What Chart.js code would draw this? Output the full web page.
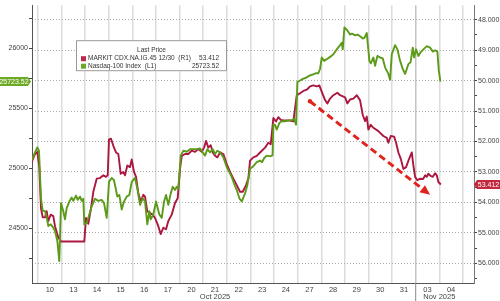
<!DOCTYPE html>
<html>
<head>
<meta charset="utf-8">
<script src="https://cdn.jsdelivr.net/npm/chart.js@4.4.1/dist/chart.umd.min.js"></script>
<style>
  html, body { margin: 0; padding: 0; background: #fff; }
  #wrap { width: 500px; height: 301px; }
</style>
</head>
<body>
<div id="wrap"><canvas id="chart" width="500" height="301"></canvas></div>
<script>
// Day slots on the x axis: slot k spans [k, k+1]
const dayLabels = ['09', '10', '13', '14', '15', '16', '17', '20', '21', '22', '23', '24',
  '27', '28', '29', '30', '31', '03', '04'];
const monthLabels = ['Oct 2025', 'Nov 2025'];
const monthLabelAt = [8.5, 18];
const novStart = 17;

const seriesNames = ['MARKIT CDX.NA.IG.45 12/30  (R1)', 'Nasdaq-100 Index  (L1)'];

// MARKIT CDX IG (right axis, inverted)
const cdxTime = [
  0.733, 0.873, 0.970, 1.055, 1.127, 1.199, 1.297, 1.369, 1.436, 1.538,
  1.648, 1.720, 1.860, 1.975, 2.962, 3.034, 3.131, 3.246, 3.343, 3.487,
  3.627, 3.767, 3.881, 3.953, 4.008, 4.093, 4.191, 4.305, 4.403, 4.504,
  4.614, 4.686, 4.784, 4.898, 4.970, 5.068, 5.153, 5.250, 5.352, 5.462,
  5.534, 5.631, 5.746, 5.860, 5.958, 6.097, 6.199, 6.309, 6.424, 6.521,
  6.665, 6.805, 6.919, 7.017, 7.089, 7.229, 7.369, 7.513, 7.653, 7.792,
  7.936, 8.034, 8.119, 8.216, 8.318, 8.403, 8.500, 8.597, 8.712, 8.852,
  8.996, 9.136, 9.275, 9.419, 9.559, 9.674, 9.814, 9.911, 9.983, 10.123,
  10.267, 10.407, 10.619, 10.758, 10.860, 10.970, 11.085, 11.182, 11.284, 11.394,
  11.678, 11.818, 11.962, 12.072, 12.242, 12.386, 12.525, 12.665, 12.809, 12.919,
  13.021, 13.161, 13.258, 13.373, 13.513, 13.682, 13.797, 14.008, 14.106, 14.220,
  14.360, 14.504, 14.644, 14.758, 14.856, 14.928, 14.996, 15.097, 15.208, 15.419,
  15.631, 15.775, 15.843, 15.945, 16.085, 16.170, 16.267, 16.369, 16.479, 16.593,
  16.691, 16.835, 16.903, 16.975, 17.072, 17.186, 17.314, 17.398, 17.470, 17.538,
  17.631, 17.725, 17.822, 17.894, 17.962, 18.064
];
const cdxValue = [
  52.68, 52.41, 52.34, 52.84, 54.19, 54.49, 54.49, 54.29, 54.61, 54.40,
  54.45, 54.78, 55.15, 55.28, 55.28, 54.51, 54.70, 54.19, 53.65, 53.22,
  53.20, 53.11, 53.16, 53.11, 51.93, 51.91, 52.14, 52.36, 52.41, 53.06,
  53.00, 53.11, 52.79, 52.84, 52.59, 53.00, 53.16, 53.70, 53.97, 53.75,
  53.81, 54.29, 54.35, 54.40, 54.51, 54.78, 55.04, 54.83, 54.88, 54.61,
  54.40, 54.02, 53.86, 52.90, 52.47, 52.41, 52.41, 52.30, 52.34, 52.25,
  52.34, 52.20, 51.98, 52.20, 52.12, 52.36, 52.47, 52.52, 52.36, 52.41,
  52.74, 53.00, 53.22, 53.43, 53.65, 53.65, 53.43, 53.22, 52.63, 52.52,
  52.47, 52.36, 52.20, 52.04, 52.09, 51.23, 51.34, 51.20, 51.29, 51.31,
  51.31, 51.34, 50.48, 50.43, 50.34, 50.30, 50.19, 50.16, 50.19, 50.16,
  50.37, 50.64, 50.75, 50.59, 50.48, 50.40, 50.48, 50.55, 50.75, 50.62,
  50.59, 50.48, 50.65, 51.13, 51.33, 51.18, 51.61, 51.45, 51.55, 51.66,
  51.82, 51.88, 52.04, 51.82, 51.84, 52.04, 52.36, 52.57, 52.90, 52.84,
  52.63, 52.36, 52.79, 53.16, 53.27, 53.22, 53.23, 53.11, 53.16, 53.06,
  53.13, 53.16, 53.04, 53.11, 53.33, 53.412
];

// Nasdaq-100 (left axis)
const ndxTime = [
  0.733, 0.873, 0.970, 1.042, 1.127, 1.199, 1.297, 1.369, 1.436, 1.538,
  1.648, 1.720, 1.818, 1.903, 1.975, 2.072, 2.144, 2.216, 2.326, 2.428,
  2.496, 2.610, 2.682, 2.780, 2.852, 2.919, 2.962, 3.064, 3.174, 3.275,
  3.415, 3.555, 3.699, 3.797, 3.911, 4.008, 4.123, 4.220, 4.305, 4.360,
  4.445, 4.547, 4.644, 4.758, 4.869, 4.970, 5.110, 5.208, 5.322, 5.436,
  5.534, 5.631, 5.716, 5.775, 5.886, 6.000, 6.064, 6.140, 6.242, 6.339,
  6.424, 6.521, 6.623, 6.708, 6.805, 6.877, 6.945, 7.047, 7.157, 7.301,
  7.441, 7.581, 7.725, 7.864, 7.979, 8.076, 8.174, 8.288, 8.403, 8.500,
  8.597, 8.712, 8.852, 8.996, 9.106, 9.208, 9.305, 9.419, 9.530, 9.631,
  9.771, 9.869, 9.983, 10.123, 10.267, 10.407, 10.490, 10.576, 10.691, 10.831,
  10.936, 10.970, 11.042, 11.114, 11.225, 11.326, 11.466, 11.606, 11.720, 11.847,
  11.932, 11.987, 12.102, 12.216, 12.356, 12.496, 12.640, 12.780, 12.877, 12.949,
  13.021, 13.119, 13.233, 13.373, 13.513, 13.657, 13.767, 13.869, 13.911, 13.979,
  14.081, 14.220, 14.305, 14.432, 14.538, 14.644, 14.758, 14.835, 14.928, 15.038,
  15.097, 15.208, 15.280, 15.377, 15.492, 15.606, 15.703, 15.843, 15.915, 15.987,
  16.127, 16.225, 16.339, 16.453, 16.551, 16.691, 16.784, 16.877, 16.932, 17.017,
  17.114, 17.208, 17.326, 17.470, 17.610, 17.725, 17.822, 17.919, 17.979, 18.047
];
const ndxValue = [
  25067, 25133, 25174, 25147, 24750, 24647, 24642, 24593, 24519, 24533,
  24505, 24478, 24396, 24227, 24710, 24642, 24574, 24669, 24723, 24756,
  24729, 24773, 24737, 24764, 24729, 24746, 24533, 24546, 24615, 24683,
  24746, 24729, 24737, 24710, 24587, 24887, 24920, 24901, 24819, 24764,
  24778, 24656, 24723, 24764, 24778, 24887, 24920, 24832, 24696, 24750,
  24723, 24533, 24642, 24574, 24615, 24723, 24674, 24615, 24587, 24723,
  24778, 24696, 24791, 24846, 24819, 24846, 24832, 25106, 25147, 25138,
  25160, 25160, 25160, 25165, 25133, 25106, 25160, 25133, 25160, 25119,
  25147, 25133, 25092, 25010, 24969, 24928, 24873, 24819, 24750, 24723,
  24791, 24860, 24996, 25018, 25051, 25065, 25051, 25084, 25106, 25100,
  25108, 25364, 25362, 25323, 25378, 25392, 25392, 25400, 25400, 25411,
  25364, 25719, 25732, 25746, 25755, 25773, 25782, 25793, 25793, 25828,
  25924, 25896, 25910, 25929, 25951, 25992, 26019, 26047, 25992, 26174,
  26155, 26115, 26123, 26109, 26115, 26101, 26082, 26090, 26128, 25896,
  25875, 25924, 25855, 25937, 25924, 25916, 25842, 25787, 25738, 25951,
  26027, 25992, 25896, 25828, 25787, 25869, 25885, 26006, 25924, 25992,
  25937, 25967, 25992, 26019, 26006, 25973, 25984, 25973, 25814, 25723.52
];

// Tick values
const leftTicks = [24250, 24500, 24750, 25000, 25250, 25500, 25750, 26000, 26250];
const rightTicks = [48, 48.5, 49, 49.5, 50, 50.5, 51, 51.5, 52, 52.5, 53, 53.5,
  54, 54.5, 55, 55.5, 56, 56.5];

// Trend arrow annotation (x = day slot, y = right axis value)
const arrowFrom = [12.52, 50.68];
const arrowTo = [17.61, 53.75];

const RED = '#ab173e';
const GREEN = '#5c9a19';
const FONT = "'Liberation Sans', Arial, sans-serif";

const xTicks = [];
for (let k = 1; k < dayLabels.length; k++) {
  xTicks.push(k, k + 0.5);
}
xTicks.push(dayLabels.length);

function toPoints(xs, ys) {
  return xs.map((x, i) => ({ x: x, y: ys[i] }));
}

function drawTag(ctx, x0, x1, tipX, yc, h, fill, text) {
  ctx.save();
  ctx.fillStyle = fill;
  ctx.beginPath();
  if (tipX > x1) {
    ctx.moveTo(x0, yc - h / 2);
    ctx.lineTo(x1, yc - h / 2);
    ctx.lineTo(tipX, yc);
    ctx.lineTo(x1, yc + h / 2);
    ctx.lineTo(x0, yc + h / 2);
  } else {
    ctx.moveTo(x1, yc - h / 2);
    ctx.lineTo(x0, yc - h / 2);
    ctx.lineTo(tipX, yc);
    ctx.lineTo(x0, yc + h / 2);
    ctx.lineTo(x1, yc + h / 2);
  }
  ctx.closePath();
  ctx.fill();
  ctx.fillStyle = '#fff';
  ctx.font = '7px ' + FONT;
  ctx.textAlign = 'center';
  ctx.textBaseline = 'middle';
  ctx.fillText(text, (x0 + x1) / 2, yc + 0.5);
  ctx.restore();
}

const overlay = {
  id: 'overlay',
  afterDraw(chart) {
    const { ctx, chartArea: a, scales } = chart;
    const x = scales.x, yL = scales.yL, yR = scales.yR;

    // month divider below the axis + month names
    ctx.save();
    const mx = x.getPixelForValue(novStart);
    ctx.strokeStyle = '#8a8a8a';
    ctx.lineWidth = 1;
    ctx.beginPath();
    ctx.moveTo(mx, a.bottom);
    ctx.lineTo(mx, chart.height);
    ctx.stroke();
    ctx.fillStyle = '#444';
    ctx.font = '7.5px ' + FONT;
    ctx.textAlign = 'center';
    ctx.textBaseline = 'middle';
    monthLabels.forEach((m, i) => {
      ctx.fillText(m, x.getPixelForValue(monthLabelAt[i]), 297);
    });
    ctx.restore();

    // dashed trend arrow
    const ax0 = x.getPixelForValue(arrowFrom[0]), ay0 = yR.getPixelForValue(arrowFrom[1]);
    const ax1 = x.getPixelForValue(arrowTo[0]), ay1 = yR.getPixelForValue(arrowTo[1]);
    const ang = Math.atan2(ay1 - ay0, ax1 - ax0);
    const head = 10;
    ctx.save();
    ctx.strokeStyle = '#e0241d';
    ctx.fillStyle = '#e0241d';
    ctx.lineWidth = 3;
    ctx.setLineDash([7, 4]);
    ctx.beginPath();
    ctx.moveTo(ax0, ay0);
    ctx.lineTo(ax1 - head * Math.cos(ang), ay1 - head * Math.sin(ang));
    ctx.stroke();
    ctx.setLineDash([]);
    ctx.beginPath();
    ctx.arc(ax0, ay0, 2.2, 0, Math.PI * 2);
    ctx.fill();
    ctx.beginPath();
    ctx.moveTo(ax1, ay1);
    ctx.lineTo(ax1 - head * Math.cos(ang) + 4.5 * Math.sin(ang), ay1 - head * Math.sin(ang) - 4.5 * Math.cos(ang));
    ctx.lineTo(ax1 - head * Math.cos(ang) - 4.5 * Math.sin(ang), ay1 - head * Math.sin(ang) + 4.5 * Math.cos(ang));
    ctx.closePath();
    ctx.fill();
    ctx.restore();

    // legend box
    const lx = a.left + 44, ly = a.top + 35, lw = 151, lh = 31;
    ctx.save();
    ctx.fillStyle = '#fff';
    ctx.fillRect(lx, ly, lw, lh);
    ctx.strokeStyle = '#9a9a9a';
    ctx.lineWidth = 1;
    ctx.strokeRect(lx + 0.5, ly + 0.5, lw - 1, lh - 1);
    ctx.fillStyle = '#333';
    ctx.font = '6.5px ' + FONT;
    ctx.textBaseline = 'middle';
    ctx.textAlign = 'center';
    ctx.fillText('Last Price', lx + lw / 2, ly + 10);
    const lastVals = [cdxValue[cdxValue.length - 1].toFixed(3), ndxValue[ndxValue.length - 1].toFixed(2)];
    const swatch = ['#c0284a', '#6aa82a'];
    seriesNames.forEach((name, i) => {
      const ry = ly + 18.5 + i * 7.5;
      ctx.fillStyle = swatch[i];
      ctx.fillRect(lx + 5, ry - 2.5, 5, 5);
      ctx.fillStyle = '#333';
      ctx.textAlign = 'left';
      ctx.fillText(name, lx + 12, ry);
      ctx.textAlign = 'right';
      ctx.fillText(lastVals[i], lx + lw - 8, ry);
    });
    ctx.restore();

    // last value tags on both axes
    const gy = yL.getPixelForValue(ndxValue[ndxValue.length - 1]);
    drawTag(ctx, 0, 28, 31, gy, 9, '#6eaa25', ndxValue[ndxValue.length - 1].toFixed(2));
    const ry = yR.getPixelForValue(cdxValue[cdxValue.length - 1]);
    drawTag(ctx, 477, 500, 474, ry, 9, '#c3283f', cdxValue[cdxValue.length - 1].toFixed(3));
  }
};

new Chart(document.getElementById('chart').getContext('2d'), {
  type: 'line',
  data: {
    datasets: [
      {
        label: seriesNames[1],
        data: toPoints(ndxTime, ndxValue),
        yAxisID: 'yL',
        borderColor: GREEN,
        borderWidth: 1.9,
        pointRadius: 0,
        tension: 0,
        borderJoinStyle: 'round'
      },
      {
        label: seriesNames[0],
        data: toPoints(cdxTime, cdxValue),
        yAxisID: 'yR',
        borderColor: RED,
        borderWidth: 1.9,
        pointRadius: 0,
        tension: 0,
        borderJoinStyle: 'round'
      }
    ]
  },
  options: {
    responsive: false,
    animation: false,
    devicePixelRatio: 1,
    layout: { padding: 0, autoPadding: false },
    plugins: { legend: { display: false }, tooltip: { enabled: false } },
    scales: {
      x: {
        type: 'linear',
        min: 0.746,
        max: 19.47,
        afterBuildTicks: s => { s.ticks = xTicks.map(v => ({ value: v })); },
        afterFit: s => { s.height = 18; },
        grid: {
          color: c => {
            const v = c.tick ? c.tick.value : 0;
            if (!Number.isInteger(v)) return 'rgba(0,0,0,0)';
            return v === novStart ? '#c4c4c4' : '#dcdcdc';
          },
          lineWidth: 1.5,
          drawTicks: false
        },
        border: { color: '#555', width: 1 },
        ticks: {
          autoSkip: false,
          maxRotation: 0,
          padding: 2.5,
          color: '#444',
          font: { family: FONT, size: 7.5 },
          callback: v => Number.isInteger(v) ? '' : dayLabels[Math.floor(v)]
        }
      },
      yL: {
        position: 'left',
        min: 24044,
        max: 26360,
        afterBuildTicks: s => { s.ticks = leftTicks.map(v => ({ value: v })); },
        afterFit: s => { s.width = 32; },
        grid: { drawOnChartArea: false, tickLength: 3, tickColor: '#444' },
        border: { color: '#555', width: 1 },
        ticks: {
          padding: 1,
          color: '#444',
          font: { family: FONT, size: 7 },
          callback: v => v % 500 === 0 ? String(v) : ''
        }
      },
      yR: {
        position: 'right',
        reverse: true,
        min: 47.526,
        max: 56.644,
        afterBuildTicks: s => { s.ticks = rightTicks.map(v => ({ value: v })); },
        afterFit: s => { s.width = 26; },
        grid: {
          color: c => (c.tick && Number.isInteger(c.tick.value)) ? '#ababab' : 'rgba(0,0,0,0)',
          lineWidth: 1,
          tickLength: 3,
          tickColor: '#444'
        },
        border: { color: '#777', width: 1, dash: [1, 2] },
        ticks: {
          padding: 1,
          color: '#444',
          font: { family: FONT, size: 7 },
          callback: v => Number.isInteger(v) ? v.toFixed(3) : ''
        }
      }
    }
  },
  plugins: [overlay]
});
</script>
</body>
</html>
